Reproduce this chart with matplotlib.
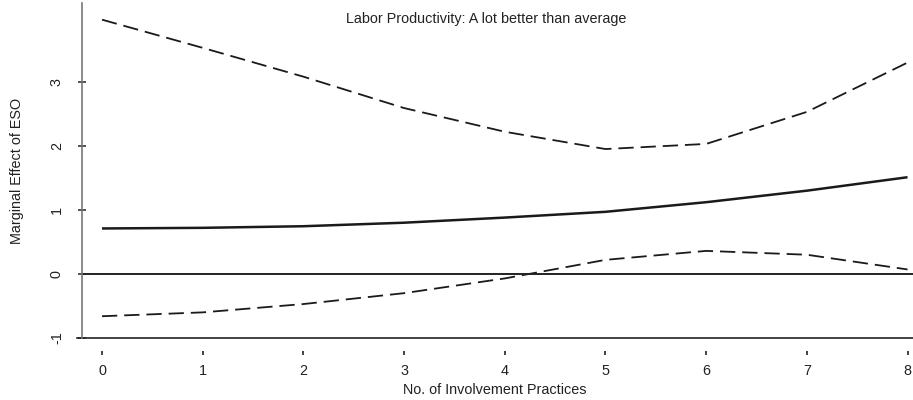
import matplotlib
matplotlib.use("Agg")
import matplotlib.pyplot as plt
from matplotlib.lines import Line2D

plt.rcParams['font.family'] = ['Liberation Sans', 'DejaVu Sans']
plt.rcParams['lines.scale_dashes'] = False

# Number of involvement practices
practices = [0, 1, 2, 3, 4, 5, 6, 7, 8]
# Marginal effect of ESO and its confidence bounds
effect = [0.71, 0.72, 0.745, 0.80, 0.88, 0.97, 1.12, 1.30, 1.51]
upper = [3.97, 3.53, 3.08, 2.59, 2.22, 1.95, 2.03, 2.53, 3.30]
lower = [-0.66, -0.60, -0.47, -0.30, -0.07, 0.22, 0.36, 0.30, 0.07]

xticks = [0, 1, 2, 3, 4, 5, 6, 7, 8]
yticks = [-1, 0, 1, 2, 3]
title = "Labor Productivity: A lot better than average"
xlabel = "No. of Involvement Practices"
ylabel = "Marginal Effect of ESO"

FS = 10.4
TXT = '#222222'

fig = plt.figure(figsize=(9.13, 4.0), dpi=100)
ax = fig.add_axes([82 / 913, 62 / 400, 1 - 82 / 913 - 0.0005, 335 / 400])

ax.plot(practices, effect, color='#1a1a1a', lw=1.8, solid_capstyle='butt')
ax.plot(practices, upper, color='#1a1a1a', lw=1.3, dashes=(11, 5))
ax.plot(practices, lower, color='#1a1a1a', lw=1.3, dashes=(11, 5))
ax.axhline(0, color='#222222', lw=1.4)

ax.set_xlim(-20 / 100.75, 8 + 5 / 100.75)
ax.set_ylim(-1, 4.23)

for side in ('top', 'right'):
    ax.spines[side].set_visible(False)
ax.spines['left'].set_color('#777777')
ax.spines['left'].set_linewidth(1.2)
ax.spines['bottom'].set_position(('outward', 9))
ax.spines['bottom'].set_visible(False)

# x axis line, drawn separately from the offset tick row
ax.add_line(Line2D([-0.006, 1.0], [0, 0], transform=ax.transAxes,
                   color='#222222', lw=1.2, clip_on=False))

ax.set_xticks(xticks)
ax.set_xticklabels([str(t) for t in xticks])
ax.set_yticks(yticks)
ax.set_yticklabels([str(t) for t in yticks], rotation=90, va='center')

ax.tick_params(axis='x', direction='out', length=3, width=1.2, color='#222222',
               pad=7, labelsize=FS, labelcolor=TXT)
ax.tick_params(axis='y', direction='inout', length=6, width=1.2, color='#333333',
               pad=10, labelsize=FS, labelcolor=TXT)

fig.text(495 / 913, 1 - 390 / 400, xlabel, ha='center', va='center',
         fontsize=FS, color=TXT)
fig.text(17 / 913, 1 - 171 / 400, ylabel, rotation=90,
         ha='center', va='center', fontsize=FS, color=TXT)
fig.text(486 / 913, 1 - 19 / 400, title, ha='center', va='center',
         fontsize=FS, color=TXT)

fig.savefig('out.png', dpi=100)
